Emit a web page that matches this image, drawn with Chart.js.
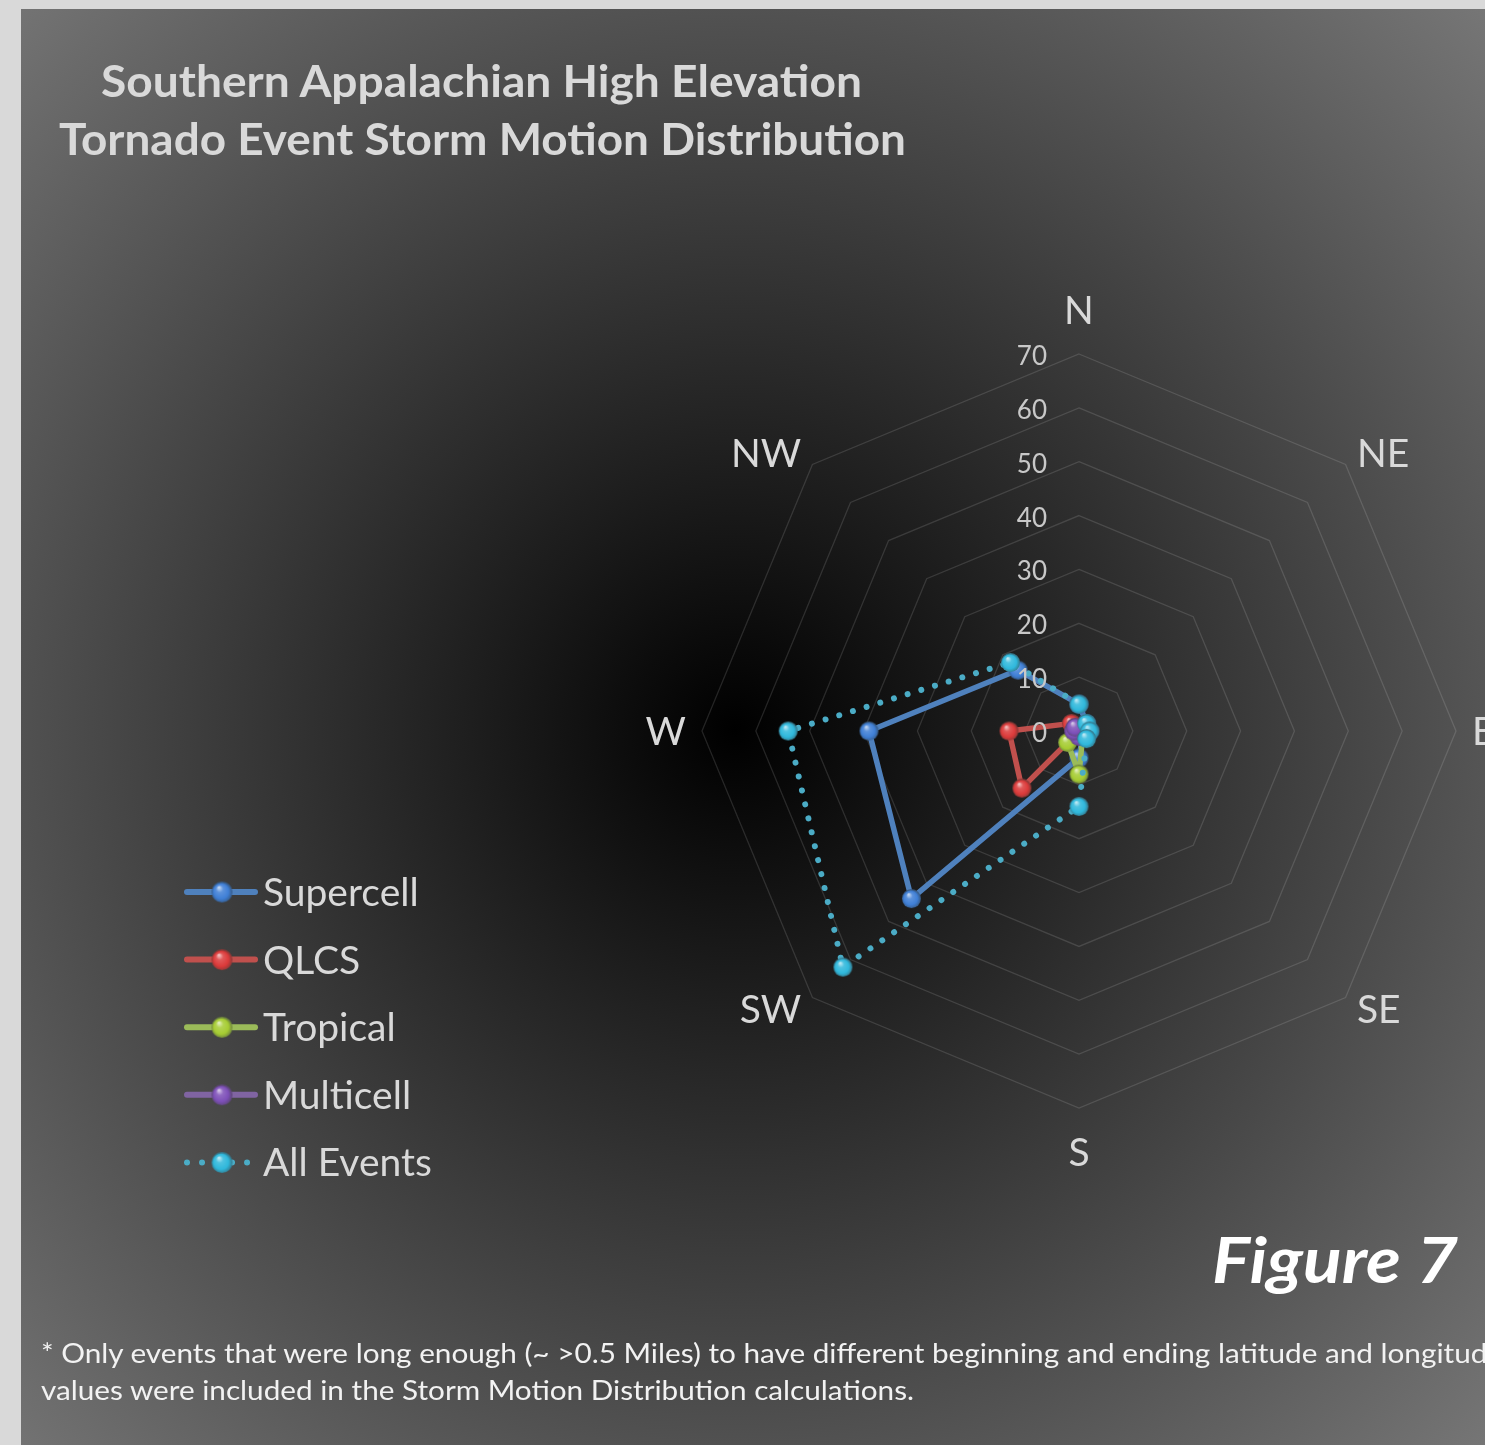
<!DOCTYPE html>
<html>
<head>
<meta charset="utf-8">
<script src="https://cdn.jsdelivr.net/npm/chart.js@4.4.1/dist/chart.umd.min.js"></script>
<style>
  html, body { margin: 0; padding: 0; width: 1485px; height: 1445px; overflow: hidden; background: #d9d9d9; }
  #bg { position: absolute; left: 21px; top: 9px; width: 1464px; height: 1436px;
        background: radial-gradient(circle farthest-corner at 714px 721px, #000000 0%, #767676 100%); }
  #c { position: absolute; left: 0; top: 0; }
  .t { position: absolute; left: 0; top: 0; white-space: nowrap; font-family: Lato, "Open Sans", sans-serif; }
  .bl { display: inline-block; width: 0; height: 0; vertical-align: baseline; }
  .title { font-weight: bold; font-size: 44px; color: #d9d9d9; }
  .fig { font-weight: bold; font-style: italic; font-size: 64px; color: #ffffff; }
  .note { font-size: 27px; color: #f2f2f2; }
</style>
</head>
<body>
<div id="bg"></div>
<canvas id="c" width="1485" height="1445"></canvas>
<div class="t title" data-left="101" data-right="862" data-base="97">Southern Appalachian High Elevation<span class="bl"></span></div>
<div class="t title" data-left="59" data-right="906" data-base="155">Tornado Event Storm Motion Distribution<span class="bl"></span></div>
<div class="t fig" data-left="1212" data-right="1458" data-base="1283">Figure 7<span class="bl"></span></div>
<div class="t note" id="n1" data-left="41" data-base="1363">* Only events that were long enough (~ &gt;0.5 Miles) to have different beginning and ending latitude and longitude<span class="bl"></span></div>
<div class="t note" id="n2" data-left="41" data-right="914" data-base="1400">values were included in the Storm Motion Distribution calculations.<span class="bl"></span></div>
<script>
// ---------------- data ----------------
const directions = ['N', 'NE', 'E', 'SE', 'S', 'SW', 'W', 'NW'];
const supercell  = [5, 2, 2, 1, 5, 44, 39, 16];
const qlcs       = [0, 0, 0, 0, 0, 15, 13, 2];
const tropical   = [0, 0, 0, 1, 8, 3, 0, 0];
const multicell  = [0, 0, 0, 0, 1, 0, 1, 1];
const allEvents  = [5, 2, 2, 2, 14, 62, 54, 18];
const seriesNames = ['Supercell', 'QLCS', 'Tropical', 'Multicell', 'All Events'];
const tickMin = 0, tickMax = 70, tickStep = 10;

// ---------------- helpers ----------------
function hexToRgb(h){ h=h.replace('#',''); return [parseInt(h.substr(0,2),16),parseInt(h.substr(2,2),16),parseInt(h.substr(4,2),16)]; }
function mix(h, t, f){ const a=hexToRgb(h), b=hexToRgb(t); return 'rgb('+a.map((v,i)=>Math.round(v+(b[i]-v)*f)).join(',')+')'; }
function sphere(color, bright, r){
  const s = Math.ceil(r*2)+2;
  const c = document.createElement('canvas'); c.width = s; c.height = s;
  const g = c.getContext('2d'); const cx = s/2;
  const grad = g.createRadialGradient(cx - r*0.3, cx - r*0.45, r*0.05, cx, cx + r*0.1, r);
  grad.addColorStop(0, mix(bright, '#ffffff', 0.7));
  grad.addColorStop(0.3, mix(bright, '#ffffff', 0.15));
  grad.addColorStop(0.7, bright);
  grad.addColorStop(1, mix(color, '#000000', 0.3));
  g.fillStyle = grad; g.beginPath(); g.arc(cx, cx, r, 0, Math.PI*2); g.fill();
  return c;
}

const colors = ['#4f81bd', '#c0504d', '#9bbb59', '#8064a2', '#4bacc6'];
const brights = ['#3f7fd6', '#dc3a3a', '#a6cc32', '#7d4fb8', '#2fb8dc'];
const values = [supercell, qlcs, tropical, multicell, allEvents];
const dotted = [false, false, false, false, true];
const spheres = colors.map((c, i) => sphere(c, brights[i], 9.5));
const legendSpheres = colors.map((c, i) => sphere(c, brights[i], 10.5));

const datasets = seriesNames.map((name, i) => ({
  label: name,
  data: values[i],
  borderColor: colors[i],
  backgroundColor: colors[i],
  borderWidth: dotted[i] ? 6 : 5.5,
  borderDash: dotted[i] ? [0.01, 14.3] : [],
  borderCapStyle: 'round',
  borderJoinStyle: 'round',
  fill: false,
  tension: 0,
  pointStyle: spheres[i],
  pointRadius: 9,
  pointHoverRadius: 9,
  order: seriesNames.length - 1 - i
}));

const FONT = 'Lato, "Open Sans", sans-serif';

const decor = {
  id: 'decor',
  afterDraw(chart) {
    const ctx = chart.ctx;
    const sc = chart.scales.r;
    ctx.save();
    // tick labels (0..70) left of the vertical axis
    ctx.font = '26px ' + FONT;
    ctx.fillStyle = '#c8c8c8';
    ctx.textAlign = 'right';
    ctx.textBaseline = 'alphabetic';
    sc.ticks.forEach(t => {
      const d = sc.getDistanceFromCenterForValue(t.value);
      ctx.fillText(String(t.value), sc.xCenter - 32, sc.yCenter - d + 11);
    });
    // point labels
    ctx.font = '39px ' + FONT;
    ctx.fillStyle = '#d9d9d9';
    chart.data.labels.forEach((lab, i) => {
      const ang = sc.getIndexAngle(i) - Math.PI/2;
      const cs = Math.cos(ang);
      const vertical = Math.abs(cs) < 0.1;
      const p = sc.getPointPosition(i, sc.drawingArea + (vertical ? 44 : 16));
      ctx.textAlign = vertical ? 'center' : (cs > 0 ? 'left' : 'right');
      ctx.fillText(lab, p.x, p.y + 14);
    });
    // legend
    chart.data.datasets.forEach((ds, i) => {
      const y = 892 + i * 67.6;
      ctx.strokeStyle = ds.borderColor;
      ctx.lineCap = 'round';
      ctx.lineWidth = 6;
      if (dotted[i]) {
        ctx.setLineDash([0.01, 15]);
        ctx.beginPath(); ctx.moveTo(187, y); ctx.lineTo(258, y); ctx.stroke();
        ctx.setLineDash([]);
      } else {
        ctx.beginPath(); ctx.moveTo(187, y); ctx.lineTo(255, y); ctx.stroke();
      }
      const sp = legendSpheres[i];
      ctx.drawImage(sp, 222 - sp.width/2, y - sp.height/2);
      ctx.fillStyle = '#d9d9d9';
      ctx.font = '39px ' + FONT;
      ctx.textAlign = 'left';
      ctx.fillText(ds.label, 263, y + 14);
    });
    ctx.restore();
  }
};

new Chart(document.getElementById('c'), {
  type: 'radar',
  data: { labels: directions, datasets: datasets },
  options: {
    responsive: false,
    animation: false,
    layout: { padding: { left: 702, top: 354, right: 29, bottom: 337 } },
    plugins: { legend: { display: false }, tooltip: { enabled: false } },
    scales: {
      r: {
        min: tickMin, max: tickMax,
        ticks: { stepSize: tickStep, display: false },
        grid: { color: 'rgba(255,255,255,0.13)', lineWidth: 1.3 },
        angleLines: { display: false },
        pointLabels: { display: false }
      }
    }
  },
  plugins: [decor]
});

// ---------------- HTML text placement ----------------
function place(el, sxOverride){
  const left = +el.dataset.left, right = el.dataset.right ? +el.dataset.right : null, base = +el.dataset.base;
  el.style.transform = 'none';
  const r = el.getBoundingClientRect();
  const b = el.querySelector('.bl').getBoundingClientRect().bottom;
  const sx = sxOverride || (right ? (right - left) / r.width : 1);
  el.style.transformOrigin = '0 0';
  el.style.transform = 'translate(' + left + 'px,' + (base - b) + 'px) scaleX(' + sx + ')';
  return sx;
}
function layoutTexts(){
  document.querySelectorAll('.t').forEach(el => { if (el.id !== 'n1') place(el); });
  const n2 = document.getElementById('n2');
  const m = /scaleX\(([^)]+)\)/.exec(n2.style.transform);
  place(document.getElementById('n1'), m ? +m[1] : 1);
}
layoutTexts();
if (document.fonts && document.fonts.ready) document.fonts.ready.then(layoutTexts);
</script>
</body>
</html>
